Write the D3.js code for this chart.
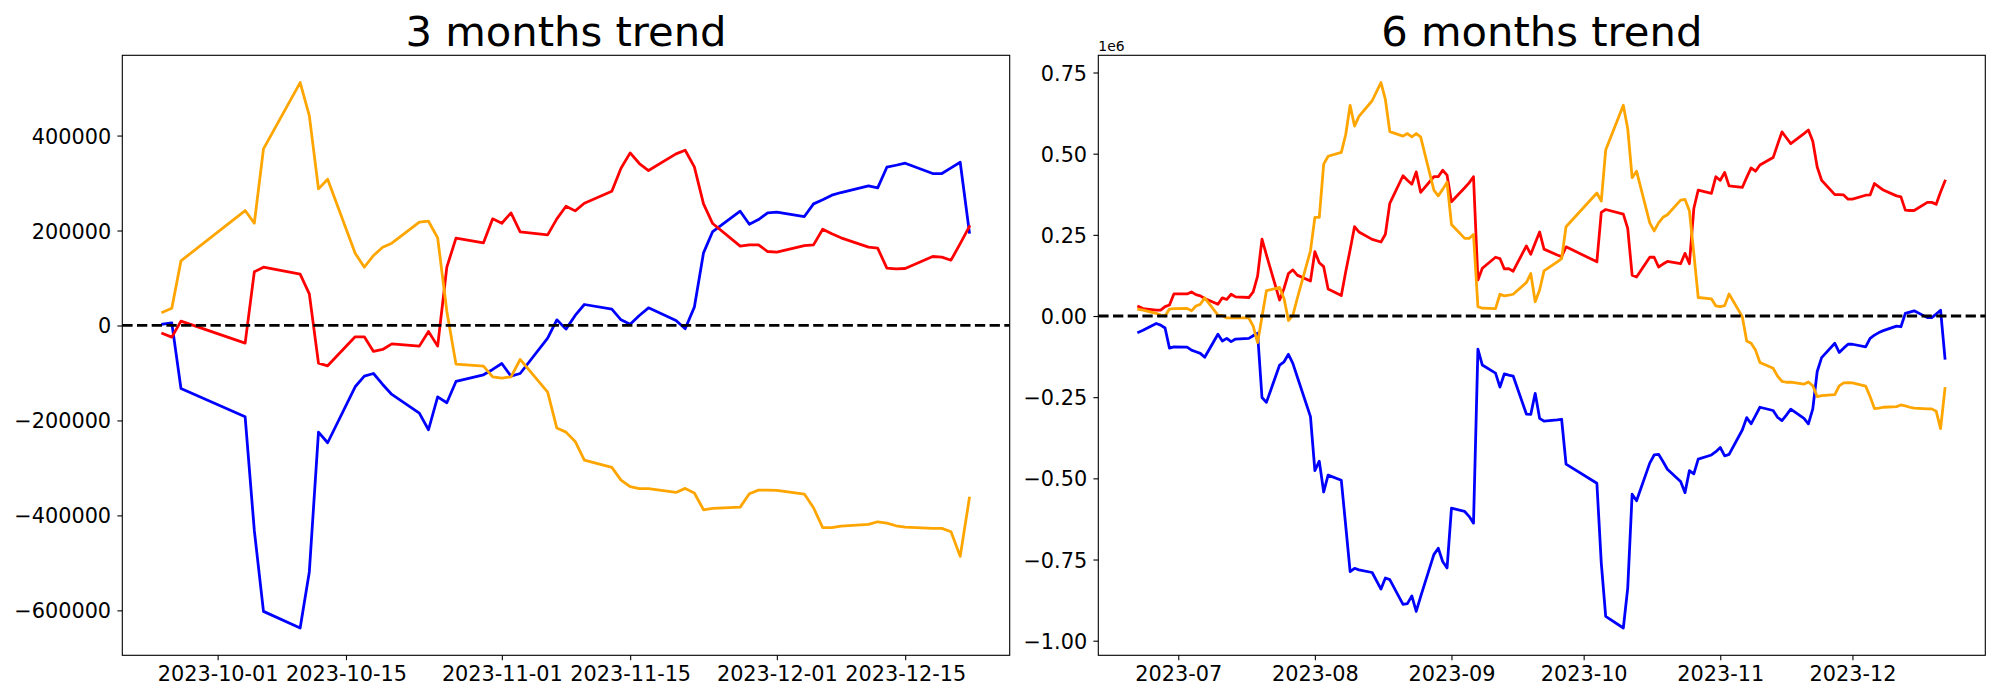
<!DOCTYPE html>
<html>
<head>
<meta charset="utf-8">
<script src="https://cdn.jsdelivr.net/npm/d3@7"></script>
<style>
  body { margin: 0; background: #ffffff; }
  svg text { font-family: "DejaVu Sans", sans-serif; fill: #000; }
</style>
</head>
<body>
<svg id="chart" width="2000" height="700"></svg>
<script>
// ---------------- DATA ----------------
// Trading days (Korean market calendar) for the 6-month window
const tradingDates6m = [
  "2023-06-22","2023-06-23","2023-06-26","2023-06-27","2023-06-28","2023-06-29","2023-06-30",
  "2023-07-03","2023-07-04","2023-07-05","2023-07-06","2023-07-07","2023-07-10","2023-07-11","2023-07-12","2023-07-13","2023-07-14",
  "2023-07-17","2023-07-18","2023-07-19","2023-07-20","2023-07-21","2023-07-24","2023-07-25","2023-07-26","2023-07-27","2023-07-28","2023-07-31",
  "2023-08-01","2023-08-02","2023-08-03","2023-08-04","2023-08-07","2023-08-08","2023-08-09","2023-08-10","2023-08-11","2023-08-14",
  "2023-08-16","2023-08-17","2023-08-18","2023-08-21","2023-08-22","2023-08-23","2023-08-24","2023-08-25","2023-08-28","2023-08-29","2023-08-30","2023-08-31",
  "2023-09-01","2023-09-04","2023-09-05","2023-09-06","2023-09-07","2023-09-08","2023-09-11","2023-09-12","2023-09-13","2023-09-14","2023-09-15",
  "2023-09-18","2023-09-19","2023-09-20","2023-09-21","2023-09-22","2023-09-25","2023-09-26","2023-09-27",
  "2023-10-04","2023-10-05","2023-10-06","2023-10-10","2023-10-11","2023-10-12","2023-10-13","2023-10-16","2023-10-17","2023-10-18","2023-10-19","2023-10-20",
  "2023-10-23","2023-10-24","2023-10-25","2023-10-26","2023-10-27","2023-10-30","2023-10-31",
  "2023-11-01","2023-11-02","2023-11-03","2023-11-06","2023-11-07","2023-11-08","2023-11-09","2023-11-10","2023-11-13","2023-11-14","2023-11-15","2023-11-16","2023-11-17",
  "2023-11-20","2023-11-21","2023-11-22","2023-11-23","2023-11-24","2023-11-27","2023-11-28","2023-11-29","2023-11-30",
  "2023-12-01","2023-12-04","2023-12-05","2023-12-06","2023-12-07","2023-12-08","2023-12-11","2023-12-12","2023-12-13","2023-12-14","2023-12-15",
  "2023-12-18","2023-12-19","2023-12-20","2023-12-21","2023-12-22"
];
// The 3-month window covers the last 60 of those trading days (from 2023-09-25)
const tradingDates3m = tradingDates6m.slice(tradingDates6m.indexOf("2023-09-25"));

// 3 months trend
const blue3m = [
  2800, 5600, -132600,
  -192300, -431600, -602100, -637200, -519000, -224600, -247000, -129100, -106700, -101100, -124200, -145300,
  -184600, -219600, -150200, -162800, -117900, -103900, -92600,
  -80000, -106700, -101100, -26700, 11900, -7700, 21100, 44200, 34400, 11900, 2800, 21100, 37200,
  10500, -7000, 38600, 153000, 197900, 240700, 213300, 223200, 237200,
  238600, 229500, 256100, 264600, 274400, 280000, 294000, 289800, 333300, 337500, 341800,
  320000, 320000, 331900, 343900, 196500
];
const red3m = [
  -16800, -24600, 9100,
  -37200, 113000, 122800, 108100, 66700, -79300, -84900, -23900, -23900, -54700, -50500, -38600,
  -43500, -12600, -43500, 122800, 183900, 174000, 224600,
  215400, 237200, 197200, 190900, 224600, 251200, 241400, 257500, 282800, 331200, 363500, 341100, 326300,
  361400, 369100, 334000, 256100, 214700, 167000, 169800, 169800, 155800,
  154400, 168400, 169800, 202800, 193000, 184600, 164900, 162800, 120700, 119300, 120000,
  145300, 143900, 137500, 172500, 208400
];
const orange3m = [
  28000, 36500, 136100,
  242100, 215400, 371900, 511600, 442100, 287700, 308100, 152300, 122800, 147400, 164900, 173300,
  217500, 219600, 184600, 30000, -81400, -85600, -108100,
  -110900, -108100, -71600, -140400, -216100, -224600, -244200, -283500, -298900, -325600, -339600, -343800, -343800,
  -351600, -343100, -352900, -388100, -385300, -382500, -354400, -346700, -346700,
  -347400, -355100, -383900, -425900, -425900, -422500, -418900, -413400, -416200, -421800, -424600,
  -427400, -427400, -434400, -486300, -363500
];

// 6 months trend
const blue6m = [
  -50000, -44000, -23000, -28000, -37000, -99000, -95000,
  -96000, -105000, -110000, -115000, -127000, -56000, -77000, -69000, -79000, -71000,
  -69000, -61000, -53000, -251000, -266000, -151000, -141000, -118000, -146000, -187000, -310000,
  -476000, -447000, -542000, -490000, -506000, -646000, -787000, -777000, -782000, -790000,
  -841000, -807000, -812000, -888000, -886000, -862000, -910000, -864000, -735000, -715000, -756000, -776000,
  -592000, -602000, -617000, -638000, -102000, -151000, -176000, -219000, -178000, -182000, -185000,
  -302000, -303000, -238000, -315000, -324000, -320000, -318000, -456000,
  -515000, -761000, -925000, -961000, -838000, -549000, -569000, -453000, -428000, -426000, -448000, -472000,
  -510000, -544000, -476000, -486000, -441000, -428000, -418000,
  -405000, -431000, -426000, -351000, -313000, -332000, -307000, -281000, -291000, -312000, -322000, -305000, -287000,
  -315000, -332000, -286000, -171000, -128000, -84000, -112000, -99000, -87000,
  -87000, -95000, -69000, -59000, -51000, -45000, -31000, -33000, 8000, 12000, 16000,
  -5000, -5000, 6000, 18000, -130000
];
const red6m = [
  29000, 23000, 18000, 18000, 29000, 34000, 68000,
  68000, 74000, 66000, 62000, 54000, 36000, 56000, 51000, 67000, 59000,
  57000, 74000, 123000, 237000, 188000, 49000, 85000, 131000, 142000, 126000, 108000,
  198000, 164000, 152000, 83000, 63000, 136000, 204000, 275000, 259000, 236000,
  228000, 252000, 347000, 432000, 418000, 406000, 444000, 381000, 429000, 429000, 449000, 434000,
  352000, 395000, 410000, 429000, 111000, 147000, 181000, 177000, 145000, 146000, 138000,
  216000, 190000, 225000, 259000, 206000, 188000, 183000, 213000,
  167000, 319000, 328000, 314000, 270000, 126000, 120000, 181000, 181000, 151000, 160000, 168000,
  161000, 193000, 161000, 331000, 388000, 378000, 429000,
  418000, 442000, 401000, 396000, 427000, 456000, 446000, 465000, 488000, 528000, 567000, 549000, 531000,
  562000, 573000, 538000, 459000, 418000, 374000, 374000, 373000, 360000,
  360000, 372000, 373000, 408000, 398000, 388000, 370000, 367000, 326000, 325000, 325000,
  350000, 350000, 344000, 382000, 416000
];
const orange6m = [
  20500, 18000, 8000, 3000, 0, 21500, 22500,
  23600, 16000, 31000, 36000, 56000, 3000, 2000, -6000, -6000, -6000,
  -6000, -31000, -82000, -2000, 78000, 88000, 54000, -14000, 2000, 54000, 201000,
  304000, 304000, 468000, 492000, 504000, 559000, 649000, 585000, 615000, 663000,
  719000, 667000, 568000, 554000, 562000, 552000, 562000, 552000, 388000, 370000, 390000, 412000,
  282000, 239000, 239000, 251000, 29000, 24000, 23000, 67000, 62000, 64000, 67000,
  103000, 131000, 44000, 80000, 139000, 167000, 177000, 275000,
  379000, 354000, 511000, 649000, 577000, 426000, 446000, 287000, 262000, 287000, 304000, 312000,
  357000, 359000, 324000, 193000, 57000, 53000, 31000,
  29000, 32000, 68000, -2000, -77000, -84000, -105000, -143000, -161000, -185000, -201000, -204000, -204000,
  -210000, -203000, -215000, -248000, -245000, -242000, -215000, -206000, -205000,
  -206000, -216000, -248000, -285000, -284000, -281000, -279000, -274000, -277000, -281000, -284000,
  -286000, -286000, -293000, -347000, -223000
];

// Axis ticks and labels
const xTicks3m = ["2023-10-01","2023-10-15","2023-11-01","2023-11-15","2023-12-01","2023-12-15"];
const xTickLabels3m = ["2023-10-01","2023-10-15","2023-11-01","2023-11-15","2023-12-01","2023-12-15"];
const yTicks3m = [-600000, -400000, -200000, 0, 200000, 400000];
const yTickLabels3m = ["\u2212600000","\u2212400000","\u2212200000","0","200000","400000"];

const xTicks6m = ["2023-07-01","2023-08-01","2023-09-01","2023-10-01","2023-11-01","2023-12-01"];
const xTickLabels6m = ["2023-07","2023-08","2023-09","2023-10","2023-11","2023-12"];
const yTicks6m = [-1000000, -750000, -500000, -250000, 0, 250000, 500000, 750000];
const yTickLabels6m = ["\u22121.00","\u22120.75","\u22120.50","\u22120.25","0.00","0.25","0.50","0.75"];

const seriesColors = ["#0000ff", "#ff0000", "#ffa500"];
const titles = ["3 months trend", "6 months trend"];
const offsetTexts = ["", "1e6"];

// ---------------- DRAWING ----------------
const svg = d3.select("#chart");
const parse = d3.utcParse("%Y-%m-%d");
const LW = 2.78;

function drawPanel(cfg) {
  const xs = cfg.dates.map(parse);
  const ext = d3.extent(xs);
  const span = ext[1] - ext[0];
  const x = d3.scaleUtc()
    .domain([new Date(+ext[0] - 0.05 * span), new Date(+ext[1] + 0.05 * span)])
    .range([cfg.left, cfg.right]);
  const allV = cfg.series.flatMap(s => s.values);
  const [mn, mx] = d3.extent(allV);
  const r = mx - mn;
  const y = d3.scaleLinear()
    .domain([mn - 0.05 * r, mx + 0.05 * r])
    .range([cfg.bottom, cfg.top]);

  const g = svg.append("g");

  // series lines
  const line = d3.line().x((d, i) => x(xs[i])).y(d => y(d));
  cfg.series.forEach(s => {
    g.append("path")
      .datum(s.values)
      .attr("d", line)
      .attr("fill", "none")
      .attr("stroke", s.color)
      .attr("stroke-width", LW)
      .attr("stroke-linejoin", "round")
      .attr("stroke-linecap", "square");
  });

  // zero reference line (dashed)
  g.append("line")
    .attr("x1", cfg.left).attr("x2", cfg.right)
    .attr("y1", y(0)).attr("y2", y(0))
    .attr("stroke", "#000")
    .attr("stroke-width", LW)
    .attr("stroke-dasharray", "10.3,4.4");

  // x axis
  const xAxis = d3.axisBottom(x)
    .tickValues(cfg.xTicks.map(parse))
    .tickFormat((d, i) => cfg.xTickLabels[i])
    .tickSizeInner(4.9).tickSizeOuter(0);
  const gx = g.append("g").attr("transform", `translate(0,${cfg.bottom})`).call(xAxis);
  gx.select(".domain").remove();
  gx.selectAll(".tick line").attr("stroke", "#000").attr("stroke-width", 1.1);
  gx.selectAll(".tick text")
    .attr("y", 26.2).attr("dy", null)
    .style("font-size", "20.8px")
    .style("font-family", "'DejaVu Sans', sans-serif")
    .attr("fill", "#000");

  // y axis
  const yAxis = d3.axisLeft(y)
    .tickValues(cfg.yTicks)
    .tickFormat((d, i) => cfg.yTickLabels[i])
    .tickSizeInner(4.9).tickSizeOuter(0);
  const gy = g.append("g").attr("transform", `translate(${cfg.left},0)`).call(yAxis);
  gy.select(".domain").remove();
  gy.selectAll(".tick line").attr("stroke", "#000").attr("stroke-width", 1.1);
  gy.selectAll(".tick text")
    .attr("x", -11.2).attr("dy", "0.36em")
    .style("font-size", "20.8px")
    .style("font-family", "'DejaVu Sans', sans-serif")
    .attr("fill", "#000");

  // frame
  g.append("rect")
    .attr("x", cfg.left).attr("y", cfg.top)
    .attr("width", cfg.right - cfg.left).attr("height", cfg.bottom - cfg.top)
    .attr("fill", "none").attr("stroke", "#000").attr("stroke-width", 1.1);

  // title
  g.append("text")
    .attr("x", (cfg.left + cfg.right) / 2).attr("y", 45.7)
    .attr("text-anchor", "middle")
    .style("font-size", "41.7px")
    .text(cfg.title);

  if (cfg.offsetText) {
    g.append("text")
      .attr("x", cfg.left).attr("y", 50.8)
      .attr("text-anchor", "start")
      .style("font-size", "13.9px")
      .text(cfg.offsetText);
  }
}

drawPanel({
  dates: tradingDates3m,
  series: [
    { values: blue3m, color: seriesColors[0] },
    { values: red3m, color: seriesColors[1] },
    { values: orange3m, color: seriesColors[2] }
  ],
  left: 122.3, right: 1009.7, top: 55.3, bottom: 655.3,
  xTicks: xTicks3m, xTickLabels: xTickLabels3m,
  yTicks: yTicks3m, yTickLabels: yTickLabels3m,
  title: titles[0], offsetText: offsetTexts[0]
});

drawPanel({
  dates: tradingDates6m,
  series: [
    { values: blue6m, color: seriesColors[0] },
    { values: red6m, color: seriesColors[1] },
    { values: orange6m, color: seriesColors[2] }
  ],
  left: 1098.3, right: 1985.3, top: 55.3, bottom: 655.3,
  xTicks: xTicks6m, xTickLabels: xTickLabels6m,
  yTicks: yTicks6m, yTickLabels: yTickLabels6m,
  title: titles[1], offsetText: offsetTexts[1]
});
</script>
</body>
</html>
